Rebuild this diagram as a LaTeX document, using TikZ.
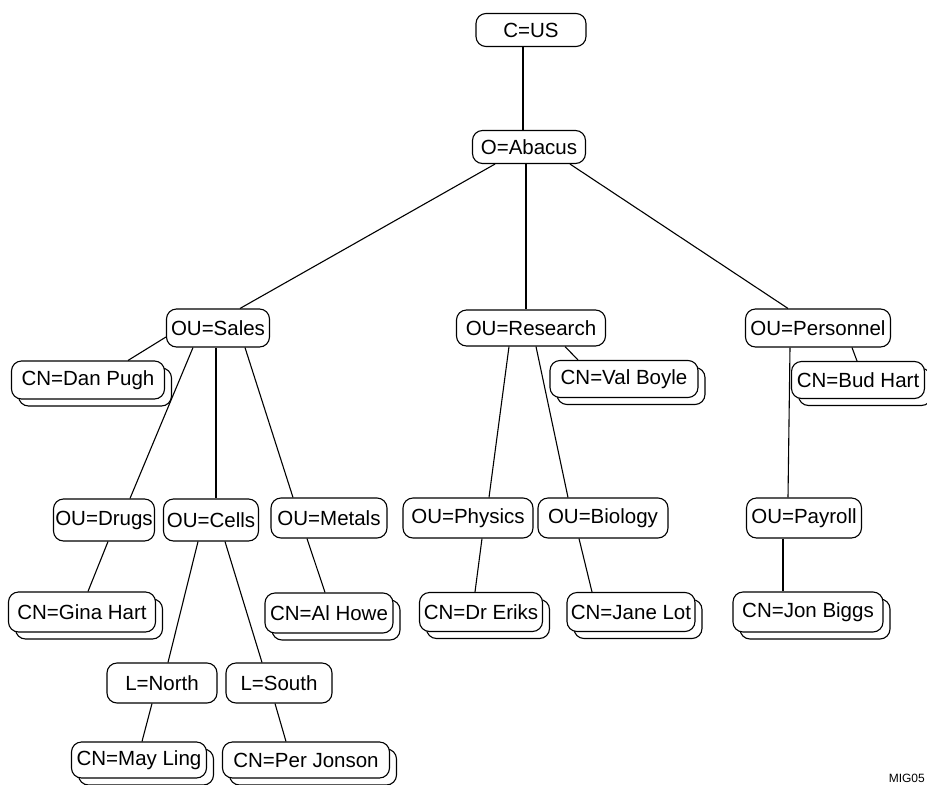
\documentclass[tikz,border=0pt]{standalone}
\usepackage{fontspec}
\setmainfont{Liberation Sans}
\usetikzlibrary{shadows,calc}
\begin{document}
\begin{tikzpicture}[x=1pt,y=-1pt,
  box/.style={draw, line width=1.1pt, rounded corners=10pt, fill=white, inner sep=0pt,
    font=\fontsize{20.5}{24}\selectfont, minimum height=38pt},
  sbox/.style={box, general shadow={shadow xshift=7pt, shadow yshift=-7pt, draw, line width=1.1pt, fill=white}},
  link/.style={draw, line width=1.1pt}]
\useasboundingbox (0,0) rectangle (927,785);
\clip (0,0) rectangle (927,785);
% nodes
\node[box, minimum width=110pt, minimum height=33pt] (cus) at (531,30) {C=US};
\node[box, minimum width=113pt, minimum height=33pt] (abacus) at (529,147) {O=Abacus};
\node[box, minimum width=103pt] (sales) at (218,328) {OU=Sales};
\node[box, minimum width=149pt, minimum height=36pt] (research) at (531,328) {OU=Research};
\node[box, minimum width=145pt] (personnel) at (818,328) {OU=Personnel};
\node[sbox, minimum width=153pt] (danpugh) at (88,380) {CN=Dan Pugh};
\node[sbox, minimum width=148pt, minimum height=37pt] (valboyle) at (624,379) {CN=Val Boyle};
\node[sbox, minimum width=133pt, minimum height=37pt] (budhart) at (858,380) {CN=Bud Hart};
\node[box, minimum width=101pt, minimum height=42pt] (drugs) at (104,520) {OU=Drugs};
\node[box, minimum width=95pt, minimum height=42pt] (cells) at (211,520) {OU=Cells};
\node[box, minimum width=116pt, minimum height=40pt] (metals) at (329,518) {OU=Metals};
\node[box, minimum width=130pt, minimum height=40pt] (physics) at (468,518) {OU=Physics};
\node[box, minimum width=130pt, minimum height=40pt] (biology) at (603,518) {OU=Biology};
\node[box, minimum width=115pt, minimum height=40pt] (payroll) at (804,518) {OU=Payroll};
\node[sbox, minimum width=147pt, minimum height=40pt] (gina) at (82,612) {CN=Gina Hart};
\node[sbox, minimum width=128pt, minimum height=40pt] (alhowe) at (329,613) {CN=Al Howe};
\node[sbox, minimum width=123pt, minimum height=39pt] (eriks) at (481,612) {CN=Dr Eriks};
\node[sbox, minimum width=128pt, minimum height=39pt] (janelot) at (631,612) {CN=Jane Lot};
\node[sbox, minimum width=150pt, minimum height=40pt] (jonbiggs) at (808,612) {CN=Jon Biggs};
\node[box, minimum width=110pt, minimum height=40pt] (north) at (162,683) {L=North};
\node[box, minimum width=106pt, minimum height=40pt] (south) at (279,683) {L=South};
\node[sbox, minimum width=135pt, minimum height=36pt] (mayling) at (139,760) {CN=May Ling};
\node[sbox, minimum width=167pt, minimum height=36pt] (perjonson) at (306,760) {CN=Per Jonson};
\node[anchor=south east, inner sep=0pt, font=\fontsize{12}{14}\selectfont] (mig) at (925,783) {MIG05};
% connectors
\path[link] ([xshift=-8pt]cus.south) -- ([xshift=-6pt]abacus.north);
\path[link] ([xshift=-34pt]abacus.south) -- ([xshift=22pt]sales.north);
\path[link] ([xshift=-3pt]abacus.south) -- ([xshift=-5pt]research.north);
\path[link] ([xshift=41pt]abacus.south) -- ([xshift=-30pt]personnel.north);
\path[link] ([yshift=-9pt]sales.west) -- ([xshift=40pt]danpugh.north);
\path[link] ([xshift=-25pt]sales.south) -- ([xshift=26pt]drugs.north);
\path[link] ([xshift=-2pt]sales.south) -- ([xshift=5pt]cells.north);
\path[link] ([xshift=27pt]sales.south) -- ([xshift=-36pt]metals.north);
\path[link] ([xshift=4pt]drugs.south) -- ([xshift=6pt]gina.north);
\path[link] ([xshift=-13pt]cells.south) -- ([xshift=6pt]north.north);
\path[link] ([xshift=14pt]cells.south) -- ([xshift=-17pt]south.north);
\path[link] ([xshift=-22pt]metals.south) -- ([xshift=-4pt]alhowe.north);
\path[link] ([xshift=-10pt]north.south) -- ([xshift=3pt]mayling.north);
\path[link] ([xshift=-4pt]south.south) -- ([xshift=-20pt]perjonson.north);
\path[link] ([xshift=-22pt]research.south) -- ([xshift=21pt]physics.north);
\path[link] ([xshift=5pt]research.south) -- ([xshift=-35pt]biology.north);
\path[link] ([xshift=34pt]research.south) -- ([xshift=-46pt]valboyle.north);
\path[link] ([xshift=14pt]physics.south) -- ([xshift=-6pt]eriks.north);
\path[link] ([xshift=-24pt]biology.south) -- ([xshift=-39pt]janelot.north);
\path[link] ([xshift=-28pt]personnel.south) -- ([xshift=-16pt]payroll.north);
\path[link] ([xshift=34pt]personnel.south) -- ([xshift=-1pt]budhart.north);
\path[link] ([xshift=-21pt]payroll.south) -- ([xshift=-25pt]jonbiggs.north);
\end{tikzpicture}
\end{document}
